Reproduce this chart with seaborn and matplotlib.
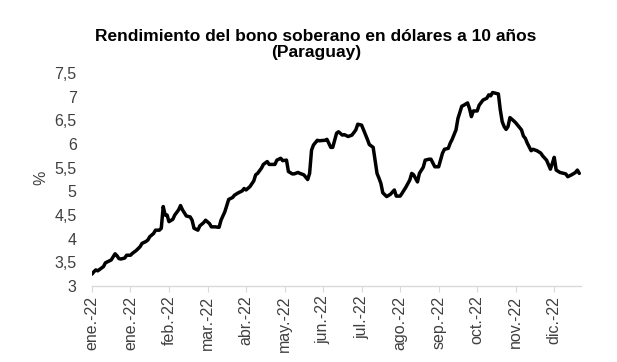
import matplotlib
matplotlib.use("Agg")
import matplotlib.pyplot as plt
import seaborn as sns
import pandas as pd

# Trading-day index of each sampled observation and the yield (%)
day_idx = [0, 1, 2, 3, 4, 6, 7, 9, 10, 12, 13, 14, 15, 17, 18, 20, 21, 23, 25, 26,
           28, 29, 30, 32, 33, 35, 36, 37, 38, 39, 40, 42, 43, 45, 46, 47, 49, 51, 52, 53,
           55, 56, 58, 59, 61, 62, 64, 66, 67, 69, 71, 73, 74, 76, 78, 79, 80, 82, 84, 85,
           86, 88, 89, 91, 92, 95, 96, 98, 99, 101, 102, 104, 105, 107, 108, 110, 112, 113, 114, 115,
           117, 118, 121, 122, 124, 125, 127, 128, 130, 131, 133, 135, 137, 138, 140, 141, 143, 144, 146, 147,
           148, 149, 150, 151, 153, 155, 157, 158, 160, 161, 163, 165, 166, 167, 169, 170, 172, 173, 175, 176,
           178, 180, 182, 183, 185, 186, 187, 189, 190, 192, 193, 195, 196, 197, 198, 200, 201, 203, 205, 206,
           207, 208, 209, 211, 212, 213, 214, 215, 216, 217, 219, 220, 221, 223, 224, 225, 226, 228, 229, 231,
           233, 234, 236, 238, 239, 240, 241, 243, 245, 246, 247, 249, 251, 252, 253]
yield_pct = [3.25, 3.30, 3.34, 3.32, 3.35, 3.41, 3.49, 3.53, 3.55, 3.68, 3.64, 3.58, 3.57, 3.59, 3.65, 3.65, 3.69, 3.75, 3.83, 3.90,
             3.94, 3.97, 4.04, 4.11, 4.18, 4.18, 4.22, 4.68, 4.50, 4.50, 4.36, 4.41, 4.50, 4.61, 4.70, 4.61, 4.48, 4.46, 4.39, 4.22,
             4.18, 4.27, 4.34, 4.39, 4.32, 4.25, 4.25, 4.24, 4.39, 4.57, 4.83, 4.87, 4.92, 4.97, 5.01, 5.06, 5.03, 5.10, 5.22, 5.35,
             5.38, 5.49, 5.57, 5.63, 5.57, 5.57, 5.66, 5.70, 5.65, 5.66, 5.42, 5.37, 5.37, 5.40, 5.38, 5.35, 5.25, 5.38, 5.87, 5.98,
             6.08, 6.07, 6.08, 6.10, 5.93, 5.93, 6.23, 6.26, 6.19, 6.20, 6.16, 6.19, 6.30, 6.42, 6.40, 6.30, 6.10, 5.99, 5.93, 5.66,
             5.38, 5.28, 5.17, 4.97, 4.89, 4.94, 5.03, 4.90, 4.90, 4.96, 5.09, 5.24, 5.38, 5.35, 5.20, 5.38, 5.51, 5.66, 5.68, 5.68,
             5.52, 5.52, 5.81, 5.89, 5.91, 6.02, 6.10, 6.30, 6.54, 6.80, 6.82, 6.87, 6.75, 6.58, 6.70, 6.70, 6.82, 6.93, 6.97, 7.04,
             7.02, 7.09, 7.08, 7.06, 6.72, 6.47, 6.37, 6.31, 6.37, 6.56, 6.49, 6.45, 6.40, 6.30, 6.17, 6.12, 6.02, 5.86, 5.89, 5.86,
             5.81, 5.75, 5.66, 5.47, 5.59, 5.72, 5.45, 5.40, 5.38, 5.37, 5.31, 5.35, 5.40, 5.45, 5.38]

tick_labels = ["ene.-22", "ene.-22", "feb.-22", "mar.-22", "abr.-22", "may.-22", "jun.-22",
               "jul.-22", "ago.-22", "sep.-22", "oct.-22", "nov.-22", "dic.-22"]
tick_step = 20
y_ticks = [3, 3.5, 4, 4.5, 5, 5.5, 6, 6.5, 7, 7.5]

df = pd.DataFrame({"idx": day_idx, "val": yield_pct})

sns.set_theme(style="white")
plt.rcParams["font.family"] = ["Liberation Sans", "DejaVu Sans"]

fig = plt.figure(figsize=(6.17, 3.62), dpi=100)
ax = fig.add_axes([0.149, 0.210, 0.793, 0.588])

sns.lineplot(data=df, x="idx", y="val", ax=ax, color="black", linewidth=2.5)

ax.set_xlim(0, 254)
ax.set_ylim(3, 7.5)
ax.set_yticks(y_ticks)
ax.set_yticklabels([f"{v:g}".replace(".", ",") for v in y_ticks])
ax.set_xticks([i * tick_step for i in range(len(tick_labels))])
ax.set_xticklabels(tick_labels, rotation=90)

ax.tick_params(axis="y", length=0, pad=11, labelsize=11.5, labelcolor="#404040")
ax.tick_params(axis="x", length=4, width=0.8, color="#d9d9d9", direction="out",
               pad=3, labelsize=11.5, labelcolor="#404040", bottom=True)

for s in ["top", "right", "left"]:
    ax.spines[s].set_visible(False)
ax.spines["bottom"].set_color("#d9d9d9")
ax.spines["bottom"].set_linewidth(1.0)

ax.set_xlabel("")
ax.set_ylabel("%", fontsize=11.5, color="#404040")
ax.yaxis.set_label_coords(-0.09, 0.51)

fig.text(0.512, 0.877, "Rendimiento del bono soberano en dólares a 10 años\n(Paraguay)",
         ha="center", va="center", fontsize=12.5, fontweight="bold", color="#000000",
         linespacing=1.15)

fig.savefig("out.png", dpi=100, facecolor="white")
